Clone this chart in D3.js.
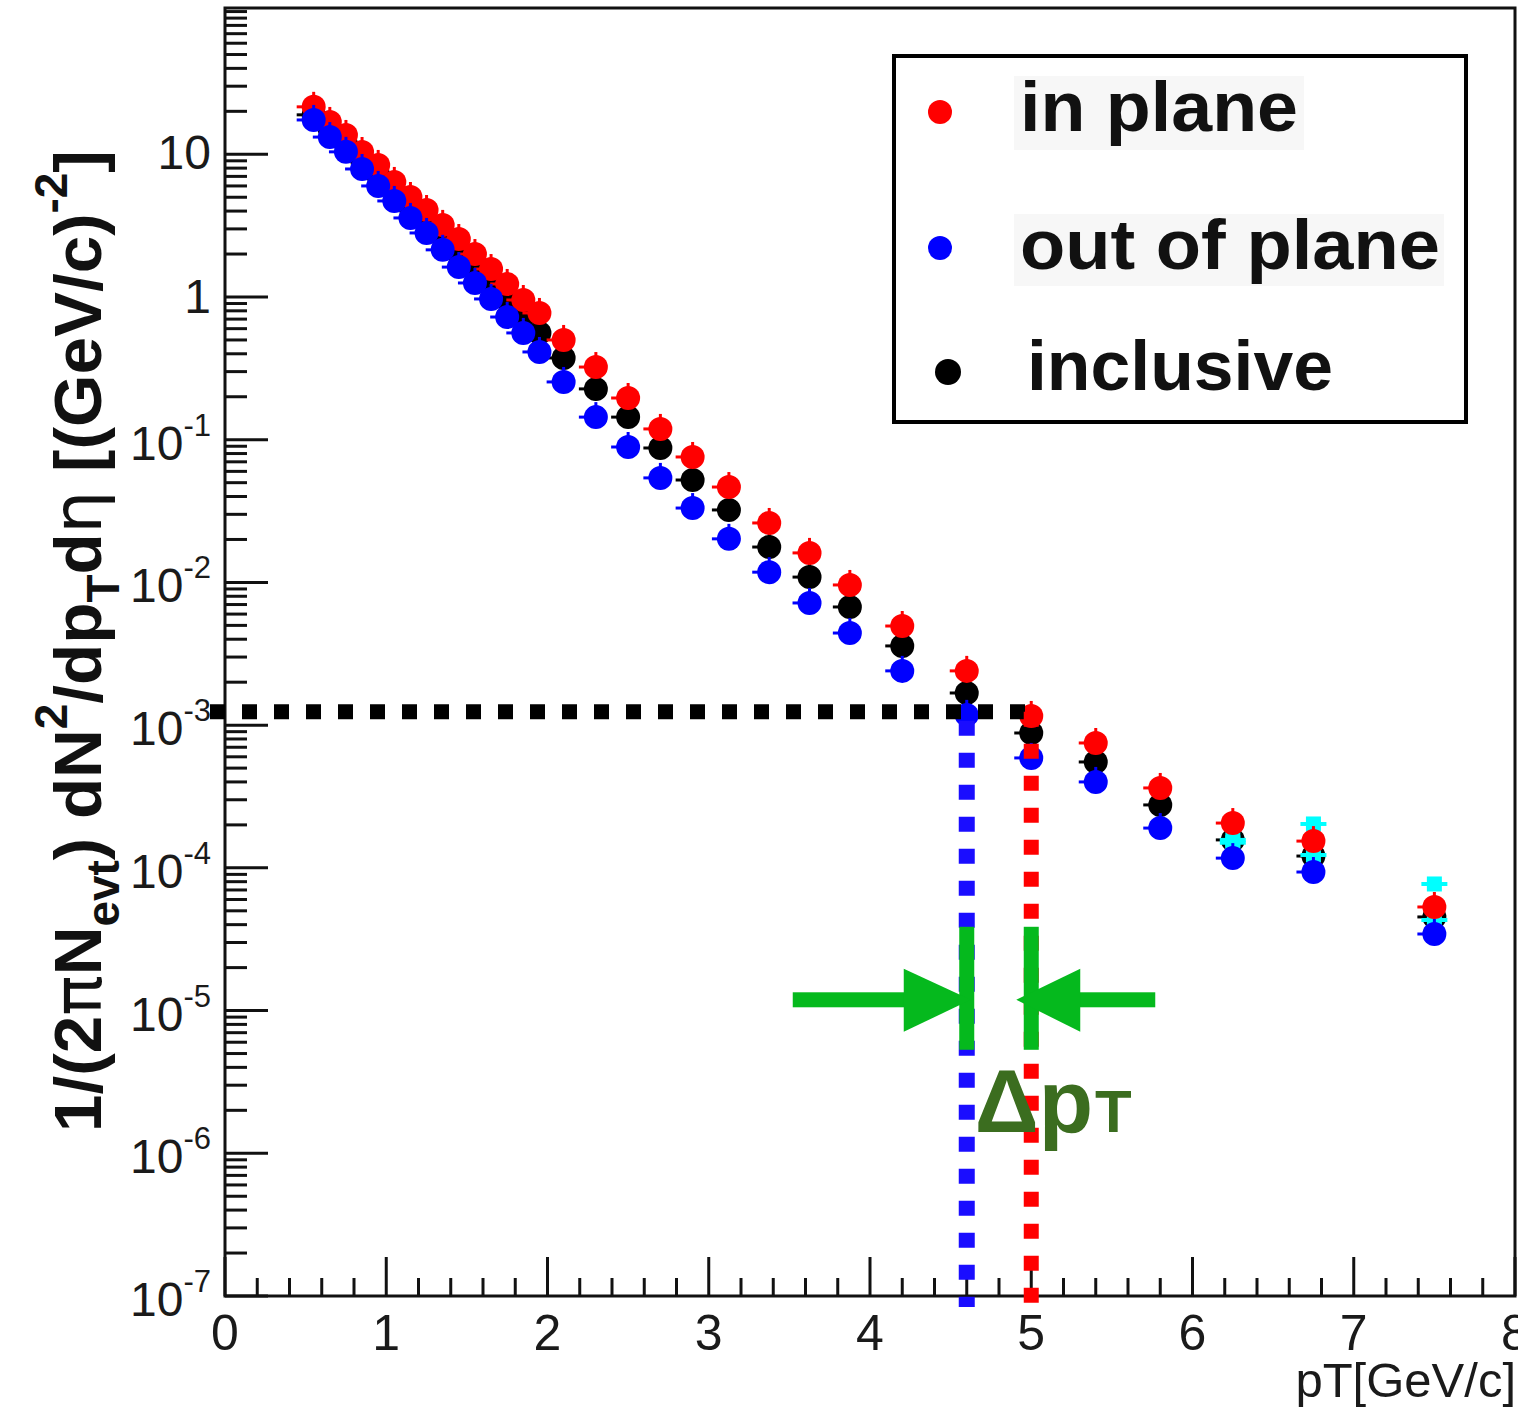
<!DOCTYPE html>
<html><head><meta charset="utf-8">
<script src="https://cdn.jsdelivr.net/npm/d3@7"></script>
<style>html,body{margin:0;padding:0;background:#fff;} svg{display:block;}</style>
</head><body>
<svg id="chart" width="1518" height="1410"></svg>
<script>
// ---------------- data ----------------
const pt = [0.55,0.65,0.75,0.85,0.95,1.05,1.15,1.25,1.35,1.45,1.55,1.65,1.75,1.85,1.95,
            2.1,2.3,2.5,2.7,2.9,3.125,3.375,3.625,3.875,4.2,4.6,5.0,5.4,5.8,6.25,6.75,7.5];
const inPlane = [21.5,16.85,13.66,10.38,8.42,6.40,5.02,4.07,3.20,2.55,2.00,1.57,1.234,0.953,0.773,
            0.500,0.323,0.196,0.119,0.0757,0.0466,0.0261,0.0161,0.0096,0.00495,0.0024,0.00116,0.00075,0.000363,0.000206,0.000154,5.32e-5];
const outOfPlane = [17.4,13.2,10.4,7.89,6.00,4.71,3.58,2.81,2.14,1.62,1.254,0.969,0.724,0.560,0.412,
            0.254,0.144,0.0889,0.054,0.0332,0.0202,0.0118,0.00718,0.00442,0.0024,0.00118,0.000589,0.0004,0.00019,0.000117,9.35e-5,3.44e-5];
const inclusive = [18.9,15.0,11.8,9.12,7.16,5.53,4.28,3.36,2.63,2.03,1.60,1.234,0.953,0.736,0.560,
            0.374,0.227,0.144,0.0875,0.0522,0.0322,0.0177,0.0109,0.00673,0.00359,0.00168,0.000881,0.000552,0.000276,0.000157,0.000121,4.53e-5];
const ptCyan = [6.25,6.75,7.5];
const cyanUpper = [1.57e-4,2.03e-4,7.71e-5];
const cyanLower = [1.50e-4,1.23e-4,4.31e-5];

const yTickExponents = [-7,-6,-5,-4,-3,-2,-1,0,1];
const xTickLabels = ["0","1","2","3","4","5","6","7","8"];
const legendLabels = ["in plane","out of plane","inclusive"];
const legendColors = ["#ff0000","#0000ff","#000000"];

const yieldLevel = 1.24e-3;   // dotted horizontal level
const ptOut = 4.6, ptIn = 5.0; // pT where each reaches that level
const arrowLevel = 1.19e-5;

// ---------------- scales ----------------
const svg = d3.select('#chart');
const FONT = "'Liberation Sans', Arial, Helvetica, sans-serif";
const x = d3.scaleLinear().domain([0,8]).range([225,1515]);
const y = d3.scaleLog().domain([1e-7, Math.pow(10,2.025)]).range([1296,8]);
const X0 = x(0), Y0 = y(1e-7);

// ---------------- frame & axes ----------------
const axisG = svg.append('g').attr('stroke','#111').attr('stroke-width',3);
axisG.append('rect').attr('x',X0).attr('y',y.range()[1]).attr('width',x(8)-X0).attr('height',Y0-y.range()[1])
  .attr('fill','none');

// y ticks
const yMajor = yTickExponents.map(e=>Math.pow(10,e));
const yMinor = [];
for (let e=-7;e<=2;e++) for (let d=1; d<=9; d++){
  const v=d*Math.pow(10,e);
  if (v>=y.domain()[0] && v<=y.domain()[1] && !(d===1 && yTickExponents.includes(e))) yMinor.push(v);
}
axisG.selectAll('line.ymin').data(yMinor).enter().append('line')
  .attr('x1',X0).attr('x2',X0+22).attr('y1',d=>y(d)).attr('y2',d=>y(d)).attr('stroke-width',3);
axisG.selectAll('line.ymaj').data(yMajor).enter().append('line')
  .attr('x1',X0).attr('x2',X0+43).attr('y1',d=>y(d)).attr('y2',d=>y(d)).attr('stroke-width',3);

// x ticks
const xMinor = d3.range(0,41).map(i=>i*0.2).filter(v=>Math.abs(v-Math.round(v))>1e-6);
const xMajor = d3.range(0,9);
axisG.selectAll('line.xmin').data(xMinor).enter().append('line')
  .attr('x1',d=>x(d)).attr('x2',d=>x(d)).attr('y1',Y0).attr('y2',Y0-18);
axisG.selectAll('line.xmaj').data(xMajor).enter().append('line')
  .attr('x1',d=>x(d)).attr('x2',d=>x(d)).attr('y1',Y0).attr('y2',Y0-39);

// y labels
const yl = svg.append('g').attr('font-family',FONT).attr('fill','#1a1a1a');
yTickExponents.forEach(e=>{
  const v=Math.pow(10,e), yy=y(v);
  const t = yl.append('text').attr('text-anchor','end').attr('x',211).attr('font-size',48);
  if (e===0){ t.attr('y',yy+16).text('1'); }
  else if (e===1){ t.attr('y',yy+15).text('10'); }
  else {
    t.attr('y',yy+20);
    t.append('tspan').text('10');
    t.append('tspan').attr('dy',-24).attr('font-size',31).text(String(e));
  }
});
// x labels
yl.selectAll('text.xl').data(xTickLabels).enter().append('text')
  .attr('x',(d,i)=>x(xMajor[i])).attr('y',Y0+54).attr('text-anchor','middle')
  .attr('font-size',50).text(d=>d);
// x title
yl.append('text').attr('x',1516).attr('y',1397).attr('text-anchor','end').attr('font-size',49).text('pT[GeV/c]');

// y title
function buildTitle(fs){
  svg.select('#ytitle').remove();
  const t = svg.append('text').attr('id','ytitle')
    .attr('transform','translate(101,1132) rotate(-90)')
    .attr('font-family',FONT).attr('font-weight','bold').attr('font-size',fs).attr('fill','#111');
  const sub = fs*0.68, subDy = fs*0.26, supDy = fs*0.5;
  const greek = "'DejaVu Sans', 'Liberation Sans', sans-serif";
  t.append('tspan').text('1/(2');
  t.append('tspan').attr('font-family',greek).attr('font-weight','normal').text('π');
  t.append('tspan').text('N');
  t.append('tspan').attr('font-size',sub).attr('dy',subDy).text('evt');
  t.append('tspan').attr('dy',-subDy).text(') dN');
  t.append('tspan').attr('font-size',sub).attr('dy',-supDy).text('2');
  t.append('tspan').attr('dy',supDy).text('/dp');
  t.append('tspan').attr('font-size',sub).attr('dy',subDy).text('T');
  t.append('tspan').attr('dy',-subDy).text('d');
  t.append('tspan').attr('font-family',greek).attr('font-weight','normal').text('η');
  t.append('tspan').text(' [(GeV/c)');
  t.append('tspan').attr('font-size',sub).attr('dy',-supDy).text('-2');
  t.append('tspan').attr('dy',supDy).text(']');
  return t;
}
let tt = buildTitle(64);
const len = tt.node().getComputedTextLength();
buildTitle(64*982/len);

// ---------------- markers ----------------
const R = 12;
function drawSeries(vals, xs, color){
  const g = svg.append('g');
  const d = xs.map((p,i)=>({p, v:vals[i]}));
  g.selectAll('line.h').data(d).enter().append('line')
    .attr('x1',e=>x(e.p)-17).attr('x2',e=>x(e.p)+10).attr('y1',e=>y(e.v)).attr('y2',e=>y(e.v))
    .attr('stroke',color).attr('stroke-width',3);
  g.selectAll('line.v').data(d).enter().append('line')
    .attr('x1',e=>x(e.p)).attr('x2',e=>x(e.p)).attr('y1',e=>y(e.v)-15).attr('y2',e=>y(e.v)+10)
    .attr('stroke',color).attr('stroke-width',3);
  g.selectAll('circle').data(d).enter().append('circle')
    .attr('cx',e=>x(e.p)).attr('cy',e=>y(e.v)).attr('r',R).attr('fill',color);
}
function drawCyan(vals){
  const g = svg.append('g');
  const d = ptCyan.map((p,i)=>({p, v:vals[i]}));
  g.selectAll('line').data(d).enter().append('line')
    .attr('x1',e=>x(e.p)-13).attr('x2',e=>x(e.p)+13).attr('y1',e=>y(e.v)).attr('y2',e=>y(e.v))
    .attr('stroke','#00ffff').attr('stroke-width',4);
  g.selectAll('rect').data(d).enter().append('rect')
    .attr('x',e=>x(e.p)-7.5).attr('y',e=>y(e.v)-7.5).attr('width',15).attr('height',15).attr('fill','#00ffff');
}
drawSeries(inclusive, pt, '#000000');
drawCyan(cyanLower);
drawCyan(cyanUpper);
drawSeries(inPlane, pt, '#ff0000');
drawSeries(outOfPlane, pt, '#0000ff');

// ---------------- dotted guide lines ----------------
const dash = '15,17';
svg.append('line').attr('x1',X0-15).attr('x2',x(ptIn)-6).attr('y1',y(yieldLevel)).attr('y2',y(yieldLevel))
  .attr('stroke','#000').attr('stroke-width',15).attr('stroke-dasharray',dash);
svg.append('line').attr('x1',x(ptOut)).attr('x2',x(ptOut)).attr('y1',y(yieldLevel)+9).attr('y2',Y0+11)
  .attr('stroke','#1a0dff').attr('stroke-width',16).attr('stroke-dasharray',dash);
svg.append('line').attr('x1',x(ptIn)).attr('x2',x(ptIn)).attr('y1',y(yieldLevel)).attr('y2',Y0+17)
  .attr('stroke','#ff0000').attr('stroke-width',15).attr('stroke-dasharray',dash);

// ---------------- Δp_T annotation ----------------
const GREEN = '#05b91d';
const ay = y(arrowLevel), bl = x(ptOut), br = x(ptIn);
const ann = svg.append('g').attr('fill',GREEN);
ann.append('rect').attr('x',bl-7.5).attr('y',ay-73).attr('width',15).attr('height',123);
ann.append('rect').attr('x',br-7.5).attr('y',ay-73).attr('width',15).attr('height',123);
ann.append('rect').attr('x',bl-174).attr('y',ay-7.5).attr('width',112).attr('height',15);
ann.append('path').attr('d',`M${bl-63},${ay-31} L${bl+4},${ay} L${bl-63},${ay+32} Z`);
ann.append('rect').attr('x',br+48).attr('y',ay-7.5).attr('width',76).attr('height',15);
ann.append('path').attr('d',`M${br+49},${ay-31} L${br-15},${ay} L${br+49},${ay+32} Z`);
const dt = svg.append('text').attr('x',bl+8).attr('y',ay+132).attr('font-family',FONT)
  .attr('font-weight','bold').attr('font-size',89).attr('fill','#3b6d1f');
dt.append('tspan').text('Δp');
dt.append('tspan').attr('font-size',60).attr('dx',2).text('T');

// ---------------- legend ----------------
const lg = svg.append('g');
lg.append('rect').attr('x',894).attr('y',56).attr('width',572).attr('height',366)
  .attr('fill','#fff').attr('stroke','#000').attr('stroke-width',4);
const lgRows = [
  {tx:1020, base:131, w:278, cx:940, cy:112, bg:[1014,76,290,74]},
  {tx:1020, base:269, w:420, cx:940, cy:248, bg:[1014,214,430,72]},
  {tx:1027, base:390, w:306, cx:948, cy:372, bg:null}
];
lgRows.forEach((r,i)=>{
  if (r.bg) lg.append('rect').attr('x',r.bg[0]).attr('y',r.bg[1]).attr('width',r.bg[2]).attr('height',r.bg[3]).attr('fill','#f7f7f7');
  lg.append('circle').attr('cx',r.cx).attr('cy',r.cy).attr('r',i===2?13:12).attr('fill',legendColors[i]);
  lg.append('text').attr('x',r.tx).attr('y',r.base).attr('font-family',FONT).attr('font-weight','bold')
    .attr('font-size',71).attr('fill','#111').attr('textLength',r.w).attr('lengthAdjust','spacingAndGlyphs')
    .text(legendLabels[i]);
});
</script>
</body></html>
